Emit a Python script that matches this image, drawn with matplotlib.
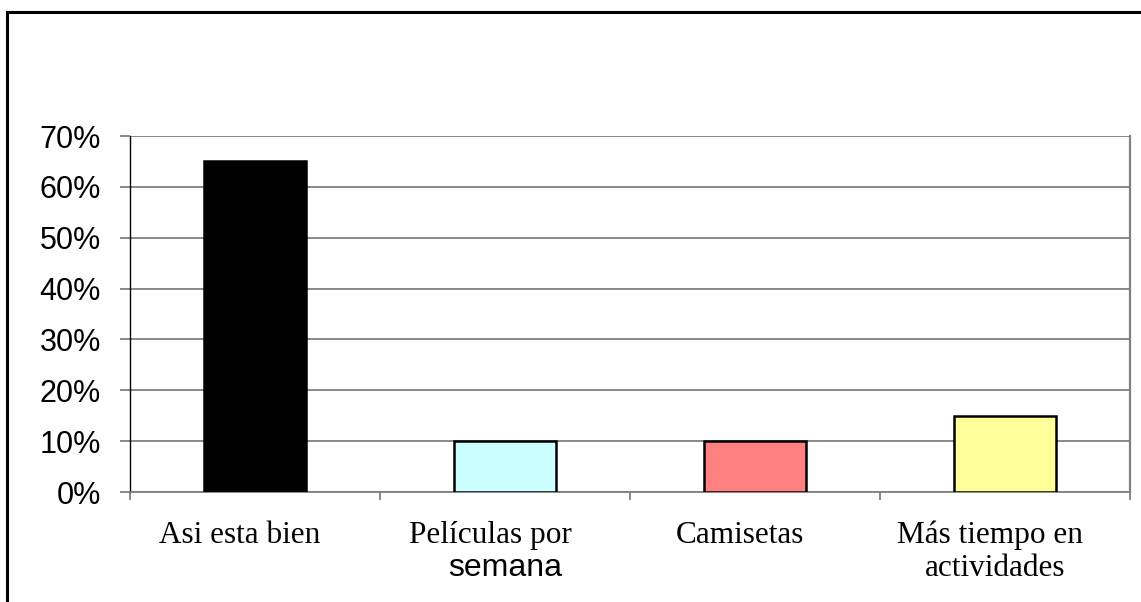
import matplotlib.pyplot as plt
from matplotlib.lines import Line2D
from matplotlib.ticker import FuncFormatter

categories = ["Asi esta bien", "Películas por", "Camisetas", "Más tiempo en"]
second_lines = ["", "semana", "", "actividades"]
second_serif = [True, False, True, True]
values = [0.65, 0.10, 0.10, 0.15]
colors = ["#000000", "#CCFFFF", "#FF8080", "#FFFF99"]
yticks = [0, 0.1, 0.2, 0.3, 0.4, 0.5, 0.6, 0.7]

W, H = 1141, 602
fig = plt.figure(figsize=(W / 100, H / 100), dpi=100)
ax = fig.add_axes([130 / W, (H - 492) / H, 1000 / W, 356 / H])

pos = range(len(categories))
ax.bar(pos, values, width=0.41, color=colors, edgecolor="black",
       linewidth=1.8, zorder=3)

ax.set_xlim(-0.5, len(categories) - 0.5)
ax.set_ylim(0, 0.7)
ax.set_yticks(yticks)
ax.yaxis.set_major_formatter(FuncFormatter(lambda v, p: "%d%%" % round(v * 100)))
ax.set_xticks([i - 0.5 for i in range(len(categories) + 1)])
ax.set_xticklabels([])
ax.grid(axis="y", color="#808080", linewidth=1.3, zorder=1)
ax.tick_params(axis="y", length=7, width=1.3, color="#808080", pad=14,
               labelsize=22, labelfontfamily="Liberation Sans")
ax.tick_params(axis="x", length=6, width=1.3, color="#808080")

ax.spines["top"].set_visible(False)
ax.spines["left"].set_color("black")
ax.spines["left"].set_linewidth(1.0)
ax.spines["right"].set_color("#808080")
ax.spines["right"].set_linewidth(1.6)
ax.spines["bottom"].set_color("#808080")
ax.spines["bottom"].set_linewidth(1.3)

tr = ax.get_xaxis_transform()
for i, (c, c2, ser) in enumerate(zip(categories, second_lines, second_serif)):
    ax.text(i - 0.06, -0.143, c, transform=tr, ha="center", va="baseline",
            fontsize=22.5, family="Liberation Serif")
    if c2:
        ax.text(i - (0.04 if ser else 0.0), -0.236, c2, transform=tr,
                ha="center", va="baseline", fontsize=23 if not ser else 22.5,
                family="Liberation Serif" if ser else "Liberation Sans")

# outer frame (left and top edges visible)
fig.add_artist(Line2D([7 / W, 7 / W], [0, 1 - 12 / H], color="black", linewidth=2.2))
fig.add_artist(Line2D([7 / W, 1], [1 - 12 / H, 1 - 12 / H], color="black", linewidth=2.2))

fig.savefig("out.png", dpi=100)
